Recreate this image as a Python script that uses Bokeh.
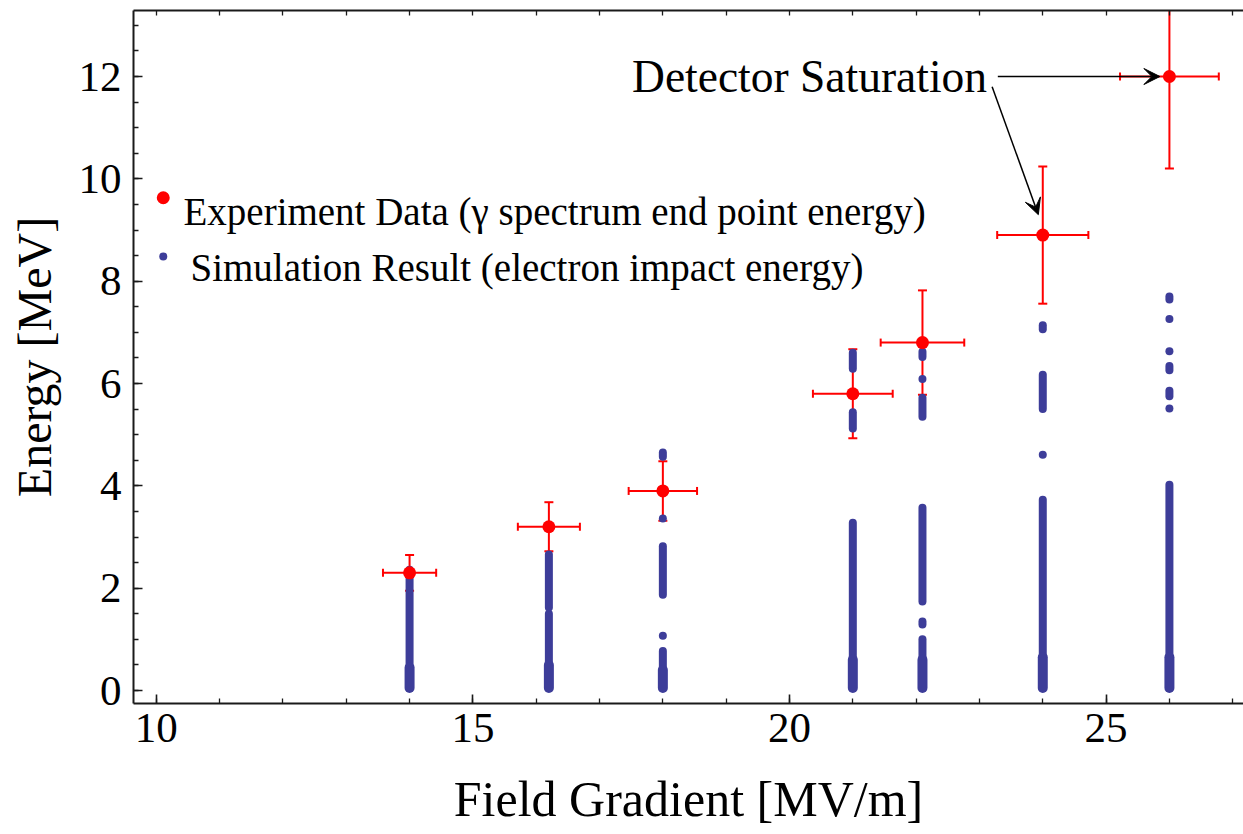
from bokeh.plotting import figure
from bokeh.models import (Range1d, FixedTicker, LinearAxis, Whisker, TeeHead,
                          ColumnDataSource, Arrow, VeeHead, Label)
from bokeh.core.properties import value
from bokeh.embed import file_html
from bokeh.resources import INLINE

# ---------------- data ----------------
# Experiment data (gamma spectrum end point energy)
exp_x = [14.0, 16.2, 18.0, 21.0, 22.1, 24.0, 26.0]
exp_y = [2.3, 3.2, 3.9, 5.8, 6.8, 8.9, 12.0]
exp_xerr = [0.42, 0.49, 0.54, 0.63, 0.66, 0.72, 0.78]
exp_yerr = [0.35, 0.48, 0.58, 0.87, 1.02, 1.34, 1.80]

# Simulation result (electron impact energy): dense vertical runs of points
sim_seg_x = [14, 16.2, 16.2, 18, 18, 18, 21, 21, 21, 22.1, 22.1, 22.1, 22.1, 22.1,
             24, 24, 24, 26, 26, 26, 26]
sim_seg_lo = [0.05, 0.05, 1.62, 0.05, 1.87, 4.57, 0.05, 5.12, 6.29, 0.05, 1.29, 1.74,
              5.35, 6.52, 0.05, 5.50, 7.06, 0.05, 5.75, 6.26, 7.64]
sim_seg_hi = [2.36, 1.50, 2.66, 0.77, 2.82, 4.65, 3.28, 5.44, 6.60, 1.00, 1.35, 3.57,
              5.72, 6.62, 3.73, 6.17, 7.14, 4.02, 5.86, 6.34, 7.70]
# densest part at the bottom of each column
sim_dense_x = [14, 16.2, 18, 21, 22.1, 24, 26]
sim_dense_hi = [0.45, 0.50, 0.40, 0.60, 0.60, 0.65, 0.65]
# isolated simulation points
sim_pt_x = [18, 18, 22.1, 24, 26, 26, 26]
sim_pt_y = [1.07, 3.36, 6.09, 4.61, 5.51, 6.63, 7.26]

x_major = [10, 15, 20, 25]
x_minor = list(range(9, 29))
y_major = [0, 2, 4, 6, 8, 10, 12]
y_minor = [v * 0.5 for v in range(-2, 28)]

legend_labels = ["Experiment Data (\u03b3 spectrum end point energy)",
                 "Simulation Result (electron impact energy)"]
annotation_text = "Detector Saturation"

# ---------------- style ----------------
FONT = "Liberation Serif"
BLUE = "#3d3d99"
RED = "#ff0000"

p = figure(width=1243, height=834,
           x_range=Range1d(9.64, 27.17), y_range=Range1d(-0.254, 13.29),
           output_backend="svg", toolbar_location=None,
           min_border_left=133, min_border_right=0,
           min_border_top=10, min_border_bottom=131)
p.outline_line_color = None
p.grid.visible = False
p.background_fill_color = "white"
p.border_fill_color = "white"

xt = FixedTicker(ticks=x_major, minor_ticks=x_minor)
yt = FixedTicker(ticks=y_major, minor_ticks=y_minor)
bottom = p.below[0]
left = p.left[0]
bottom.ticker = xt
left.ticker = yt

# top frame: line and inward ticks only, no labels
top = LinearAxis(ticker=FixedTicker(ticks=[], minor_ticks=x_minor),
                 major_label_standoff=0)
p.add_layout(top, "above")

for ax in [bottom, left, top]:
    ax.axis_line_width = 2
    ax.axis_line_color = "#1a1a1a"
    ax.major_tick_in = 9
    ax.major_tick_out = 0
    ax.minor_tick_in = 5
    ax.minor_tick_out = 0
    ax.major_tick_line_width = 1.6
    ax.minor_tick_line_width = 1.3
    ax.major_tick_line_color = "#1a1a1a"
    ax.minor_tick_line_color = "#1a1a1a"

for ax in [bottom, left]:
    ax.major_label_text_font = FONT
    ax.major_label_text_font_size = "43px"
    ax.major_label_text_color = "black"
    ax.axis_label_text_font = FONT
    ax.axis_label_text_font_style = "normal"
    ax.axis_label_text_color = "black"

bottom.axis_label = "Field Gradient [MV/m]"
bottom.axis_label_text_font_size = "50px"
bottom.major_label_standoff = 10
bottom.axis_label_standoff = 26
left.axis_label = "Energy [MeV]"
left.axis_label_text_font_size = "48px"
left.major_label_standoff = 12
left.axis_label_standoff = 15

# ---------------- simulation columns ----------------
p.segment(x0=sim_seg_x, y0=sim_seg_lo, x1=sim_seg_x, y1=sim_seg_hi,
          line_color=BLUE, line_width=8, line_cap="round")
p.segment(x0=sim_dense_x, y0=[0.05] * len(sim_dense_x), x1=sim_dense_x, y1=sim_dense_hi,
          line_color=BLUE, line_width=10, line_cap="round")
p.scatter(sim_pt_x, sim_pt_y, size=8, color=BLUE, line_color=None)

# ---------------- experiment with error bars ----------------
src = ColumnDataSource(dict(
    x=exp_x, y=exp_y,
    xl=[a - b for a, b in zip(exp_x, exp_xerr)], xu=[a + b for a, b in zip(exp_x, exp_xerr)],
    yl=[a - b for a, b in zip(exp_y, exp_yerr)], yu=[a + b for a, b in zip(exp_y, exp_yerr)],
))
p.add_layout(Whisker(source=src, base="x", lower="yl", upper="yu", dimension="height",
                     line_color=RED, line_width=2,
                     upper_head=TeeHead(size=9, line_color=RED, line_width=2),
                     lower_head=TeeHead(size=9, line_color=RED, line_width=2)))
p.add_layout(Whisker(source=src, base="y", lower="xl", upper="xu", dimension="width",
                     line_color=RED, line_width=2,
                     upper_head=TeeHead(size=8, line_color=RED, line_width=2),
                     lower_head=TeeHead(size=8, line_color=RED, line_width=2)))
p.scatter("x", "y", source=src, size=13, color=RED, line_color=None)

# ---------------- legend (drawn inside plot) ----------------
p.scatter([10.11], [9.63], size=13, color=RED, line_color=None)
p.scatter([10.11], [8.48], size=8, color=BLUE, line_color=None)
p.text(x=[10.43, 10.54], y=[9.36, 8.27], text=legend_labels,
       text_font=value(FONT), text_font_size="39px", text_color="black",
       text_baseline="alphabetic", text_align="left")

# ---------------- annotation ----------------
p.add_layout(Label(x=23.12, y=12.0, text=annotation_text, text_align="right",
                   text_baseline="alphabetic", text_font=FONT,
                   text_font_size="45.5px", text_color="black"))
p.add_layout(Arrow(x_start=23.29, y_start=12.0, x_end=25.85, y_end=12.0,
                   line_color="black", line_width=1.5,
                   end=VeeHead(size=16, fill_color="black", line_color="black")))
p.add_layout(Arrow(x_start=23.2, y_start=11.8, x_end=23.93, y_end=9.3,
                   line_color="black", line_width=1.5,
                   end=VeeHead(size=16, fill_color="black", line_color="black")))

open("out.html", "w").write(file_html(p, INLINE))
